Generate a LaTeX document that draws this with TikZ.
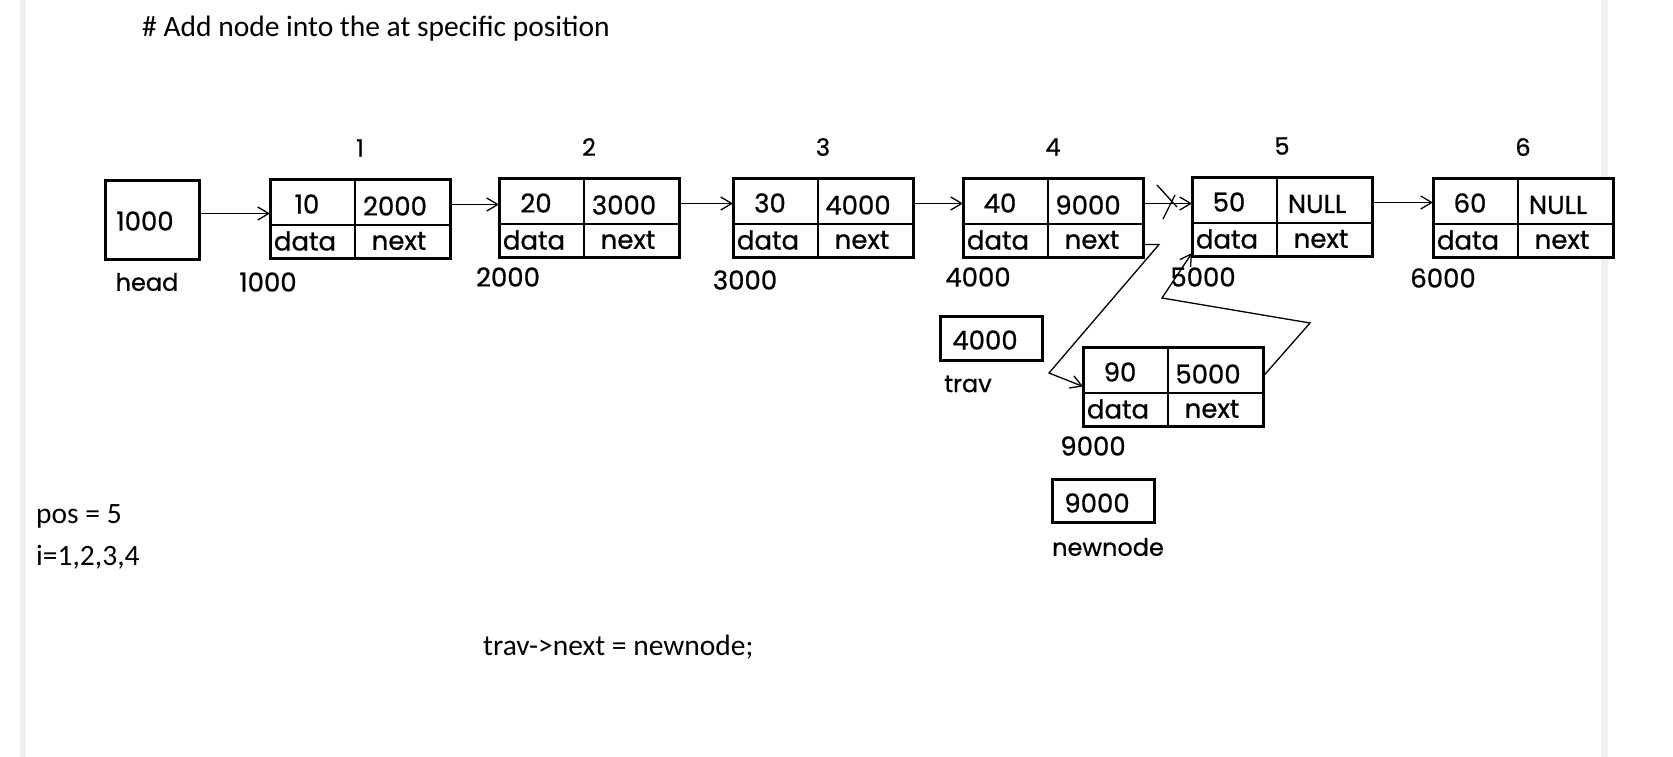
\documentclass[tikz,border=0pt]{standalone}
\usepackage{fontspec}
\setmainfont{Carlito}
\newfontfamily\gothic{Poppins}[FakeBold=0.8]
\usetikzlibrary{arrows.meta,positioning}
\definecolor{bargray}{HTML}{F0F0F0}

\begin{document}
\begin{tikzpicture}[%
      x=1pt, y=-1pt,
      >={Straight Barb[length=11pt,width=13pt]},
      cell/.style={draw, line width=3pt, fill=white, minimum width=180pt,
        minimum height=79pt, inner sep=0pt, outer sep=0pt, anchor=north west},
      ptr/.style={draw, line width=3pt, fill=white, minimum width=102pt,
        minimum height=43pt, inner sep=0pt, outer sep=0pt, anchor=north west},
      val/.style={font=\gothic\fontsize{26}{26}\selectfont, inner sep=0pt},
      lbl/.style={font=\gothic\fontsize{24}{24}\selectfont, inner sep=0pt},
      idx/.style={font=\gothic\fontsize{24}{24}\selectfont, inner sep=0pt},
      divline/.style={line width=1.3pt},
      link/.style={line width=1.3pt, ->},
      txt/.style={font=\fontsize{29.5}{29.5}\selectfont, inner sep=0pt, anchor=base west},
      ]
      \useasboundingbox (0,0) rectangle (1673,757);
      \fill [bargray] (20,0) rectangle (26,757);
      \fill [bargray] (1601,0) rectangle (1608,757);

      \node [txt] (title) at (142,37) {\# Add node into the at specific position};

      % the list, node 9 is the new one
      \foreach \i/\x/\y/\v/\p/\ax/\ay in {1/270/179/10/2000/268/282,
          2/499/178/20/3000/508/277, 3/733/178/30/4000/745/280,
          4/963/178/40/9000/978/277, 5/1192/177/50/NULL/1203/277,
          6/1433/178/60/NULL/1443/278, 9/1083/347/90/5000/1093/446}
      {
        \node [cell] (n\i) at (\x,\y) {};
        \draw [divline] ([xshift=85pt]n\i.north west) -- ([xshift=85pt]n\i.south west);
        \draw [divline] ([yshift=-46pt]n\i.north west) -- ([yshift=-46pt]n\i.north east);
        \node [val] (n\i-v) at ([shift={(37,25)}]n\i.north west) {\v};
        \node [val] (n\i-p) at ([shift={(125,27)}]n\i.north west) {\p};
        \node [val] (n\i-d) at ([shift={(35,62)}]n\i.north west) {data};
        \node [val] (n\i-n) at ([shift={(129,62)}]n\i.north west) {next};
        \node [val] (n\i-a) at (\ax,\ay) {\i000};
      }
      \foreach \i in {1,...,6}
        \node [idx] (n\i-k) at ([yshift=31pt]n\i.north) {\i};

      % pointers
      \node [ptr, minimum width=94pt, minimum height=79pt] (head) at (105,180) {};
      \node [val] (head-v) at (145,221) {1000};
      \node [lbl] (head-l) at (147,282) {head};
      \node [ptr, minimum height=44pt] (trav) at (940,316) {};
      \node [val] (trav-v) at (985,340) {4000};
      \node [lbl] (trav-l) at (968,384) {trav};
      \node [ptr] (newnode) at (1052,479) {};
      \node [val] (newnode-v) at (1097,503) {9000};
      \node [lbl] (newnode-l) at (1108,547) {newnode};

      \draw [link] ([yshift=6pt]head.east) -- ([yshift=6pt]head.east -| n1.west);
      \foreach \a/\b in {1/2,2/3,3/4,5/6}
        \draw [link] ([yshift=14pt]n\a.east) -- ([yshift=14pt]n\a.east -| n\b.west);

      % old link 4 -> 5, crossed out
      \draw [link] ([yshift=14pt]n4.east) -- ([yshift=14pt]n4.east -| n5.west);
      \coordinate (cut) at (1170,203);
      \draw [divline] ([shift={(-13,-18)}]cut) -- ([shift={(7,4)}]cut);
      \draw [divline] ([shift={(-7,16)}]cut) -- ([shift={(5,-8)}]cut);

      % new links
      \coordinate (b1) at (1049,373);
      \draw [link] ([yshift=-27pt]n4.east) -- ++(16,0) -- (b1) -- (n9.west);
      \coordinate (b2) at (1310,323);
      \coordinate (b3) at (1162,298);
      \draw [link] ([yshift=10pt]n9.east) -- (b2) -- (b3) -- ([yshift=3pt]n5.south west);

      \node [txt] (pos) at (36,523) {pos = 5};
      \node [txt] (iter) at (36,565) {i=1,2,3,4};
      \node [txt] (code) at (483,655) {trav->next = newnode;};
\end{tikzpicture}
\end{document}
